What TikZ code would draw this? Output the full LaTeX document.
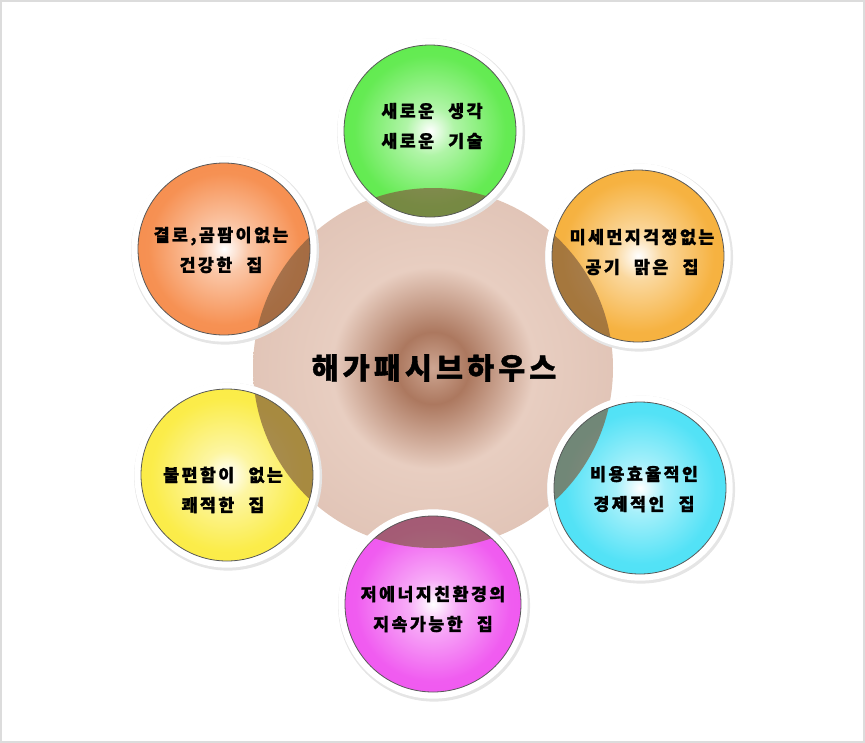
\documentclass[tikz,border=0pt]{standalone}
\usepackage{fontspec}
\usepackage{tikz}
\newfontfamily\krfont[LetterSpace=14,
  BoldFeatures={FakeBold=1.2}]{Noto Sans CJK KR}
\newfontfamily\krtitle[LetterSpace=14,
  BoldFeatures={FakeBold=1.2}]{Noto Sans CJK KR}
\newcommand{\wgap}{\hspace{0.45em}}

\definecolor{leafgreen}{RGB}{80,232,60}
\definecolor{amber}{RGB}{245,168,40}
\definecolor{skycyan}{RGB}{60,222,245}
\definecolor{pinkmag}{RGB}{238,70,238}
\definecolor{lemon}{RGB}{250,234,50}
\definecolor{tangerine}{RGB}{245,130,60}
\definecolor{hubcore}{RGB}{205,165,145}
\definecolor{hubdark}{RGB}{172,120,95}
\definecolor{hublight}{RGB}{232,206,193}
\definecolor{hubmid}{RGB}{216,184,170}
\definecolor{hubrim}{RGB}{155,106,86}
\definecolor{hubtint}{RGB}{128,92,60}
\definecolor{framegray}{RGB}{220,220,220}

\newcommand{\petalshading}[2]{%
  \pgfdeclareradialshading{#1}{\pgfpoint{0bp}{0bp}}{%
    color(0bp)=(white); color(7bp)=(white!55!#2);
    color(22bp)=(#2!88!white); color(50bp)=(#2)}}
\petalshading{shadegreen}{leafgreen}
\petalshading{shadeamber}{amber}
\petalshading{shadecyan}{skycyan}
\petalshading{shademag}{pinkmag}
\petalshading{shadelemon}{lemon}
\petalshading{shadeorange}{tangerine}
\pgfdeclareradialshading{shadehub}{\pgfpoint{0bp}{0bp}}{%
  color(0bp)=(hubcore); color(5bp)=(hubdark); color(14bp)=(hublight);
  color(40bp)=(hubmid); color(50bp)=(hubrim)}

\tikzset{
  hubdisc/.style={circle, minimum size=270pt, inner sep=0pt, shading=shadehub},
  petal/.style={circle, minimum size=129pt, inner sep=0pt,
    preaction={draw=black!10, line width=12pt,
               transform canvas={shift={(.8pt,-1.2pt)}}},
    preaction={draw=white, line width=10pt},
    path picture={\fill[hubtint, opacity=.68] (hub.center) circle [radius=135pt];},
    draw=black!65, line width=.6pt},
  petaltext/.style={align=center, font=\krfont\bfseries\fontsize{13}{22.5}\selectfont},
  hubtext/.style={font=\krtitle\bfseries\fontsize{22}{25}\selectfont}
}

\begin{document}
\begin{tikzpicture}[x=0.75pt, y=-0.75pt]
  \useasboundingbox (0,0) rectangle (865,743);
  \draw[framegray, line width=1.5pt] (1,1) rectangle (864,742);

  % centre disc
  \node[hubdisc] (hub) at (433,368) {};

  % six petals round the centre
  \node[petal, shading=shadegreen] (idea) at (430,131) {};
  \node[petal, shading=shadeamber] (cleanair) at (638,256) {};
  \node[petal, shading=shadecyan] (economy) at (640,488) {};
  \node[petal, shading=shademag, minimum size=132pt] (lowenergy) at (433,604) {};
  \node[petal, shading=shadelemon] (comfort) at (227,475) {};
  \node[petal, shading=shadeorange] (healthy) at (224,249) {};

  \node[hubtext] (hub label) at (434,368) {해가패시브하우스};
  \node[petaltext] (idea label) at (432,126) {새로운 \wgap 생각\\새로운 \wgap 기술};
  \node[petaltext] (cleanair label) at (642,252) {미세먼지걱정없는\\공기 \wgap 맑은 \wgap 집};
  \node[petaltext] (economy label) at (644,489) {비용효율적인\\경제적인 \wgap 집};
  \node[petaltext] (lowenergy label) at (433,609) {저에너지친환경의\\지속가능한 \wgap 집};
  \node[petaltext] (comfort label) at (223,490) {불편함이 \wgap 없는\\쾌적한 \wgap 집};
  \node[petaltext] (healthy label) at (221,250) {결로,곰팜이없는\\건강한 \wgap 집};
\end{tikzpicture}
\end{document}
